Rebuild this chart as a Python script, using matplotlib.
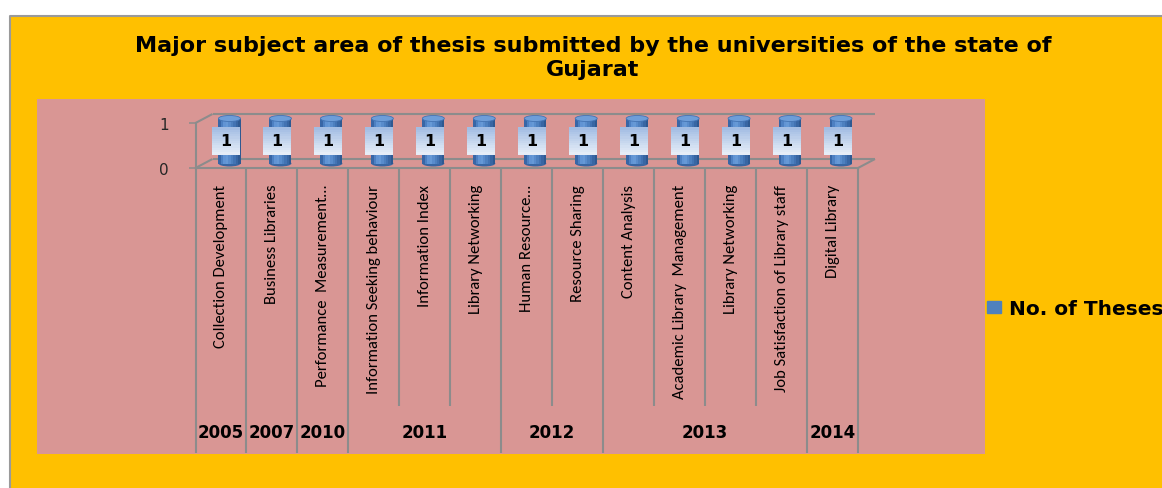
import matplotlib
matplotlib.use('Agg')
import matplotlib.pyplot as plt
from matplotlib.patches import Rectangle, Ellipse, Patch
from matplotlib.lines import Line2D
import numpy as np

# ---------------- data ----------------
categories = [
    'Collection Development',
    'Business Libraries',
    'Performance  Measurement\u2026',
    'Information Seeking behaviour',
    'Information Index',
    'Library Networking',
    'Human Resource\u2026',
    'Resource Sharing',
    'Content Analysis',
    'Academic Library  Management',
    'Library Networking',
    'Job Satisfaction of Library staff',
    'Digital Library',
]
values = [1, 1, 1, 1, 1, 1, 1, 1, 1, 1, 1, 1, 1]
years = ['2005', '2007', '2010', '2011', '2012', '2013', '2014']
year_counts = [1, 1, 1, 3, 2, 4, 1]
y_ticks = [0, 1]
series_name = 'No. of Theses'
title = 'Major subject area of thesis submitted by the universities of the state of\nGujarat'

# ---------------- layout ----------------
W, H, DPI = 1162, 489, 100
fig = plt.figure(figsize=(W / DPI, H / DPI), dpi=DPI, facecolor='white')

def fx(px):
    return px / W

def fy(py):
    return 1 - py / H

ORANGE = '#FFC000'
PINK = '#D99694'
GRAY = '#8c8c8c'
BLUE = '#4F81BD'

fig.patches.append(Rectangle((fx(10), 0), 1 - fx(10), fy(17), transform=fig.transFigure,
                             facecolor=ORANGE, edgecolor='none', zorder=-3))
fig.add_artist(Line2D([fx(9.5), fx(9.5), 1], [0, fy(16.5), fy(16.5)], transform=fig.transFigure,
                      color='#9a9a9a', lw=1.5, zorder=-2))
fig.patches.append(Rectangle((fx(37), fy(455)), fx(985) - fx(37), fy(100) - fy(455),
                             transform=fig.transFigure, facecolor=PINK, edgecolor='none', zorder=-2))

fig.text(fx(593), fy(58), title, ha='center', va='center', fontsize=16, fontweight='bold',
         family='DejaVu Sans', color='black', linespacing=1.2)

AX_L, AX_R, AX_T, AX_B = 195.5, 858, 124, 169
ax = fig.add_axes([fx(AX_L), fy(AX_B), fx(AX_R) - fx(AX_L), fy(AX_T) - fy(AX_B)])
n = len(categories)
ax.set_xlim(-0.5, n - 0.5)
ax.set_ylim(0, 1)
ax.patch.set_visible(False)

px_x = (AX_R - AX_L) / n
px_y = (AX_B - AX_T) / 1.0
DX = 17 / px_x      # depth offset (data units)
DY = 9 / px_y

for s in ['top', 'right']:
    ax.spines[s].set_visible(False)
for s in ['left', 'bottom']:
    ax.spines[s].set_color(GRAY)
    ax.spines[s].set_linewidth(1.5)

# 3D walls / floor
lk = dict(color=GRAY, lw=1.5, clip_on=False, zorder=1, solid_capstyle='butt')
x0, x1 = -0.5, n - 0.5
ax.plot([x0 + DX, x1 + DX], [DY, DY], **lk)
ax.plot([x0 + DX, x1 + DX], [1 + DY, 1 + DY], **lk)
ax.plot([x0, x0 + DX], [0, DY], **lk)
ax.plot([x0, x0 + DX], [1, 1 + DY], **lk)
ax.plot([x1, x1 + DX], [0, DY], **lk)

# y ticks
ax.set_yticks(y_ticks)
ax.set_yticklabels([str(t) for t in y_ticks], fontsize=11, color='#262626', family='DejaVu Sans')
ax.tick_params(axis='y', length=5, width=1.1, color=GRAY, pad=14)

# category labels
ax.set_xticks(range(n))
ax.set_xticklabels(categories, rotation=90, fontsize=12,
                   family=['Carlito', 'Liberation Sans Narrow', 'Lato', 'DejaVu Sans'],
                   color='black')
ax.tick_params(axis='x', length=0, pad=11.5)

# cylinders
xs = np.arange(n) + DX / 2
base = DY / 2
CW = 22 / px_x
EH = 6 / px_y
grad = [(0.22, 0.40, 0.65), (0.30, 0.50, 0.76), (0.38, 0.58, 0.83), (0.40, 0.60, 0.84),
        (0.35, 0.55, 0.80), (0.30, 0.50, 0.75), (0.26, 0.45, 0.70), (0.22, 0.40, 0.64),
        (0.18, 0.35, 0.57)]
for i, x in enumerate(xs):
    ax.add_patch(Ellipse((x, base), CW, EH, facecolor=(0.22, 0.40, 0.64), edgecolor='none',
                         zorder=2, clip_on=False))
ns = len(grad)
sw = CW / ns
for k, c in enumerate(grad):
    ax.bar(xs - CW / 2 + sw * (k + 0.5), values, width=sw * 1.02, bottom=base, color=c,
           edgecolor='none', zorder=3, clip_on=False)
for i, x in enumerate(xs):
    ax.add_patch(Ellipse((x, base + values[i]), CW, EH, facecolor=(0.43, 0.62, 0.85),
                         edgecolor=(0.26, 0.45, 0.70), lw=0.6, zorder=4, clip_on=False))

# data label boxes
BW = 28 / px_x
BH = 27 / px_y
box_grad_top = np.array([0.64, 0.74, 0.89])
box_grad_bot = np.array([0.90, 0.93, 0.97])
nb = 12
for i, v in enumerate(values):
    cx = i + 5 / px_x
    cy = v / 2 + DY / 2
    for k in range(nb):
        t = k / (nb - 1)
        col = box_grad_top * (1 - t) + box_grad_bot * t
        ax.add_patch(Rectangle((cx - BW / 2, cy + BH / 2 - BH * (k + 1) / nb), BW, BH / nb * 1.05,
                               facecolor=col, edgecolor='none', zorder=5, clip_on=False))
    ax.text(cx, cy, str(v), ha='center', va='center', fontsize=11.5, fontweight='bold',
            family='DejaVu Sans', color='black', zorder=6, clip_on=False)

# dividers and year labels
edges = np.concatenate([[0], np.cumsum(year_counts)])
inner_bottom = (AX_B - 407) / px_y
outer_bottom = (AX_B - 454) / px_y
for k in range(n + 1):
    yb = outer_bottom if k in edges else inner_bottom
    ax.plot([k - 0.5, k - 0.5], [0, yb], **lk)
year_y = (AX_B - 432.5) / px_y
for g, yr in enumerate(years):
    cx = (edges[g] + edges[g + 1]) / 2 - 0.5
    ax.text(cx, year_y, yr, ha='center', va='center', fontsize=12, fontweight='bold',
            family='DejaVu Sans', color='black', clip_on=False)

# legend
fig.legend(handles=[Patch(facecolor=BLUE, edgecolor=BLUE)], labels=[series_name],
           loc='center left', bbox_to_anchor=(fx(987), fy(309.5)), frameon=False,
           borderpad=0, borderaxespad=0, handlelength=0.7, handleheight=0.55,
           handletextpad=0.4, prop=dict(family='DejaVu Sans', weight='bold', size=14.5))

fig.savefig('out.png', dpi=DPI, facecolor='white')
